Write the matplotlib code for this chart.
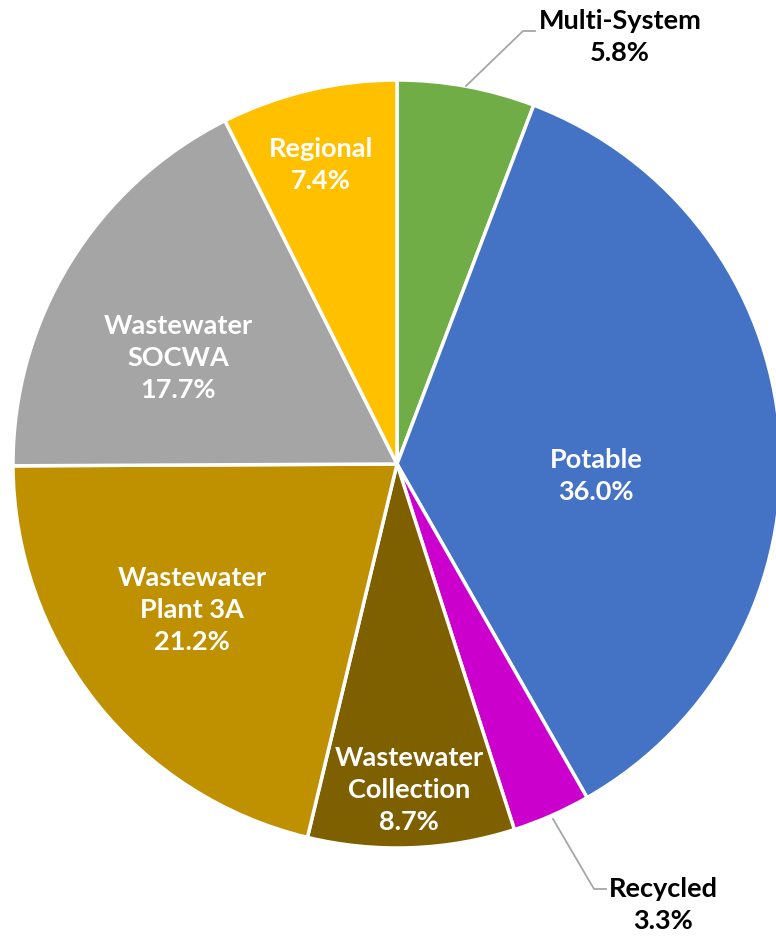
import matplotlib
matplotlib.use("Agg")
import matplotlib.pyplot as plt

labels = ["Multi-System", "Potable", "Recycled", "Wastewater\nCollection",
          "Wastewater\nPlant 3A", "Wastewater\nSOCWA", "Regional"]
values = [5.8, 36.0, 3.3, 8.7, 21.2, 17.7, 7.4]
colors = ["#70AD47", "#4472C4", "#CC00CC", "#7F6000", "#BF9000", "#A5A5A5", "#FFC000"]

W, H = 776, 937
fig = plt.figure(figsize=(W / 100, H / 100), dpi=100)
ax = fig.add_axes([0, 0, 1, 1])

cx, cy = 397, H - 465
R = 384
ax.pie(values, colors=colors, startangle=90, counterclock=False,
       center=(cx, cy), radius=R,
       wedgeprops=dict(edgecolor="white", linewidth=2.5))
ax.set_xlim(0, W)
ax.set_ylim(0, H)
ax.set_aspect("equal")
ax.axis("off")

font = dict(family="Lato", fontweight="bold", fontsize=19.5, ha="center", va="center",
            linespacing=1.42)

# inside labels (pixel positions from top-left)
inside = {
    1: (596, 476),
    3: (409, 790),
    4: (192, 610),
    5: (178, 358),
    6: (321, 165),
}
for i, (px, py) in inside.items():
    ax.text(px, H - py, f"{labels[i]}\n{values[i]:.1f}%", color="white", **font)

# outside labels with leader lines
ax.plot([466, 523, 535], [H - 87, H - 32, H - 32], color="#A6A6A6", lw=1.3)
ax.text(620, H - 37, f"{labels[0]}\n{values[0]:.1f}%", color="black", **font)
ax.plot([553, 594, 606], [H - 820, H - 890, H - 890], color="#A6A6A6", lw=1.3)
ax.text(663, H - 905, f"{labels[2]}\n{values[2]:.1f}%", color="black", **font)

fig.savefig("out.png", dpi=100)
